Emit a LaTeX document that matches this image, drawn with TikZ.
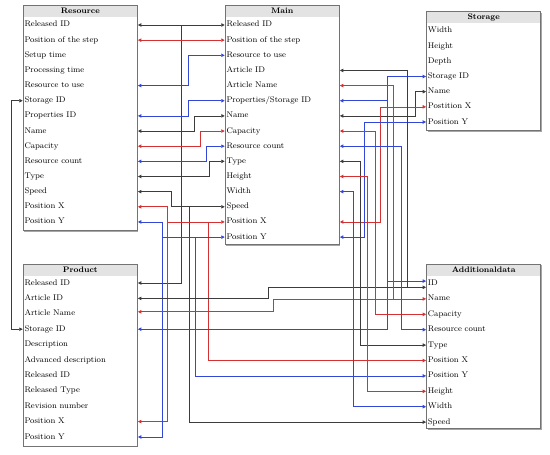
\documentclass[tikz,border=0pt]{standalone}
\usetikzlibrary{arrows.meta,calc}
\definecolor{lk}{RGB}{60,60,60}
\definecolor{lr}{RGB}{212,50,50}
\definecolor{lb}{RGB}{50,70,215}
\tikzset{
  row/.style={anchor=west, inner xsep=1pt, inner ysep=0pt, minimum height=14pt,
    text width=111.6pt, align=left, text height=5.6pt, text depth=1.6pt,
    font=\fontsize{8.2}{9.6}\selectfont},
  hdr/.style={anchor=north west, fill=black!11, minimum width=113.6pt, minimum height=11.4pt,
    inner sep=0pt, font=\bfseries\fontsize{8}{9}\selectfont},
  frame/.style={draw=black!55, line width=0.8pt},
  shade/.style={draw=black!35, line width=1pt},
  conn/.style={line width=0.7pt, shorten >=0.6pt, shorten <=0.6pt},
  kl/.style={conn, draw=lk},
  rl/.style={conn, draw=lr},
  bl/.style={conn, draw=lb},
  both/.style={{Triangle[length=3.4pt,width=3.4pt]}-{Triangle[length=3.4pt,width=3.4pt]}},
  endtip/.style={-{Triangle[length=3.4pt,width=3.4pt]}},
}
\begin{document}
\begin{tikzpicture}[x=1pt,y=-1pt]
\useasboundingbox (0,0) rectangle (550,455);
% ---------- boxes ----------
\node[hdr] (Rh) at (23.3,5.3) {Resource};
\draw[shade] (137.8,6.3) -- (137.8,231.6) -- (24.3,231.6);
\draw[frame] (Rh.north west) rectangle (136.9,230.7);
\foreach \t [count=\i from 0] in {Released ID,Position of the step,Setup time,Processing time,Resource to use,Storage ID,Properties ID,Name,Capacity,Resource count,Type,Speed,Position X,Position Y}
  \node[row] (R\i) at (23.3,{25+15.15*\i}) {\t};

\node[hdr] (Mh) at (225.3,5.3) {Main};
\draw[shade] (339.8,6.3) -- (339.8,245.4) -- (226.3,245.4);
\draw[frame] (Mh.north west) rectangle (338.9,244.5);
\foreach \t [count=\i from 0] in {Released ID,Position of the step,Resource to use,Article ID,Article Name,Properties/Storage ID,Name,Capacity,Resource count,Type,Height,Width,Speed,Position X,Position Y}
  \node[row] (M\i) at (225.3,{25+15.15*\i}) {\t};

\node[hdr] (Sh) at (426.7,11.7) {Storage};
\draw[shade] (541.2,12.7) -- (541.2,131.6) -- (427.7,131.6);
\draw[frame] (Sh.north west) rectangle (540.3,130.7);
\foreach \t [count=\i from 0] in {Width,Height,Depth,Storage ID,Name,Postition X,Position Y}
  \node[row] (S\i) at (426.7,{31+15.17*\i}) {\t};

\node[hdr] (Ph) at (23.3,264) {Product};
\draw[shade] (137.8,265) -- (137.8,446.9) -- (24.3,446.9);
\draw[frame] (Ph.north west) rectangle (136.9,446);
\foreach \t [count=\i from 0] in {Released ID,Article ID,Article Name,Storage ID,Description,Advanced description,Released ID,Released Type,Revision number,Position X,Position Y}
  \node[row] (P\i) at (23.3,{283+15.4*\i}) {\t};

\node[hdr] (Ah) at (426.7,264) {Additionaldata};
\draw[shade] (541.2,265) -- (541.2,429.2) -- (427.7,429.2);
\draw[frame] (Ah.north west) rectangle (540.3,428.3);
\foreach \t [count=\i from 0] in {ID,Name,Capacity,Resource count,Type,Position X,Position Y,Height,Width,Speed}
  \node[row] (A\i) at (426.7,{283.5+15.4*\i}) {\t};

% ---------- lanes ----------
\foreach \n/\v in {x11/11,x162/162.7,x167/167.7,x171/171.3,x181/181.3,x188/188.2,x189/189.3,x194/194.3,x195/195.3,x200/200.3,x206/206.3,x208/208,x210/209.8,x268/268.7,x273/273,x353/353.3,x360/360.7,x364/364.3,x367/367.3,x375/375,x380/380,x388/387.7,x393/393.3,x401/401,x407/407.7,x415/415.7}
  \coordinate (\n) at (\v,0);
\coordinate (Aidb) at ([yshift=2.4pt]A0.west);
\coordinate (Aidk) at ([yshift=-3.8pt]A0.west);
\coordinate (Pan) at ([yshift=2pt]P2.east);

% ---------- Resource <-> Main ----------
\draw[kl,both] (R0.east) -- (M0.west);
\draw[kl,endtip] (R0.east -| x181) |- (P0.east);
\draw[rl,both] (R1.east) -- (M1.west);
\draw[bl,both] (R4.east) -| (M2.west -| x188) -- (M2.west);
\draw[bl,both] (R6.east) -| (M5.west -| x188) -- (M5.west);
\draw[kl,both] (R7.east) -| (M6.west -| x194) -- (M6.west);
\draw[rl,both] (R8.east) -| (M7.west -| x200) -- (M7.west);
\draw[bl,both] (R9.east) -| (M8.west -| x206) -- (M8.west);
\draw[kl,both] (R10.east) -| (M9.west -| x210) -- (M9.west);
\draw[kl,both] (R11.east) -| (M12.west -| x171) -- (M12.west);
\draw[kl,endtip] (M12.west -| x189) |- (A9.west);
\draw[rl,both] (R12.east) -| (M13.west -| x167) -- (M13.west);
\draw[rl,endtip] (M13.west -| x167) |- (P9.east);
\draw[rl,endtip] (M13.west -| x208) |- (A5.west);
\draw[bl,both] (R13.east) -| (M14.west -| x162) -- (M14.west);
\draw[bl,endtip] (M14.west -| x162) |- (P10.east);
\draw[bl,endtip] (M14.west -| x195) |- (A6.west);
\draw[kl,both] (R5.west) -| (P3.west -| x11) -- (P3.west);

% ---------- Storage ----------
\draw[bl,both] (S3.west) -| (P3.east -| x388) -- (P3.east);
\draw[bl,endtip] (M5.east -| x388) -- (M5.east);
\draw[bl,endtip] (Aidb -| x388) -- (Aidb);
\draw[kl,both] (S4.west) -| (M6.east -| x415) -- (M6.east);
\draw[rl,both] (S5.west) -| (M13.east -| x380) -- (M13.east);
\draw[bl,both] (S6.west) -| (M14.east -| x364) -- (M14.east);

% ---------- Main -> Additionaldata / Product ----------
\draw[kl,both] (M3.east) -| (Aidk -| x407) -- (Aidk);
\draw[kl,endtip] (Aidk -| x407) -- (Aidk -| x268) |- (P1.east);
\draw[rl,both] (M4.east) -| (A1.west -| x393) -- (A1.west);
\draw[rl,endtip] (A1.west -| x393) -- (A1.west -| x273) |- (Pan);
\draw[rl,both] (M7.east) -| (A2.west -| x375) -- (A2.west);
\draw[bl,both] (M8.east) -| (A3.west -| x401) -- (A3.west);
\draw[kl,both] (M9.east) -| (A4.west -| x360) -- (A4.west);
\draw[rl,both] (M10.east) -| (A7.west -| x367) -- (A7.west);
\draw[bl,both] (M11.east) -| (A8.west -| x353) -- (A8.west);
\end{tikzpicture}
\end{document}
